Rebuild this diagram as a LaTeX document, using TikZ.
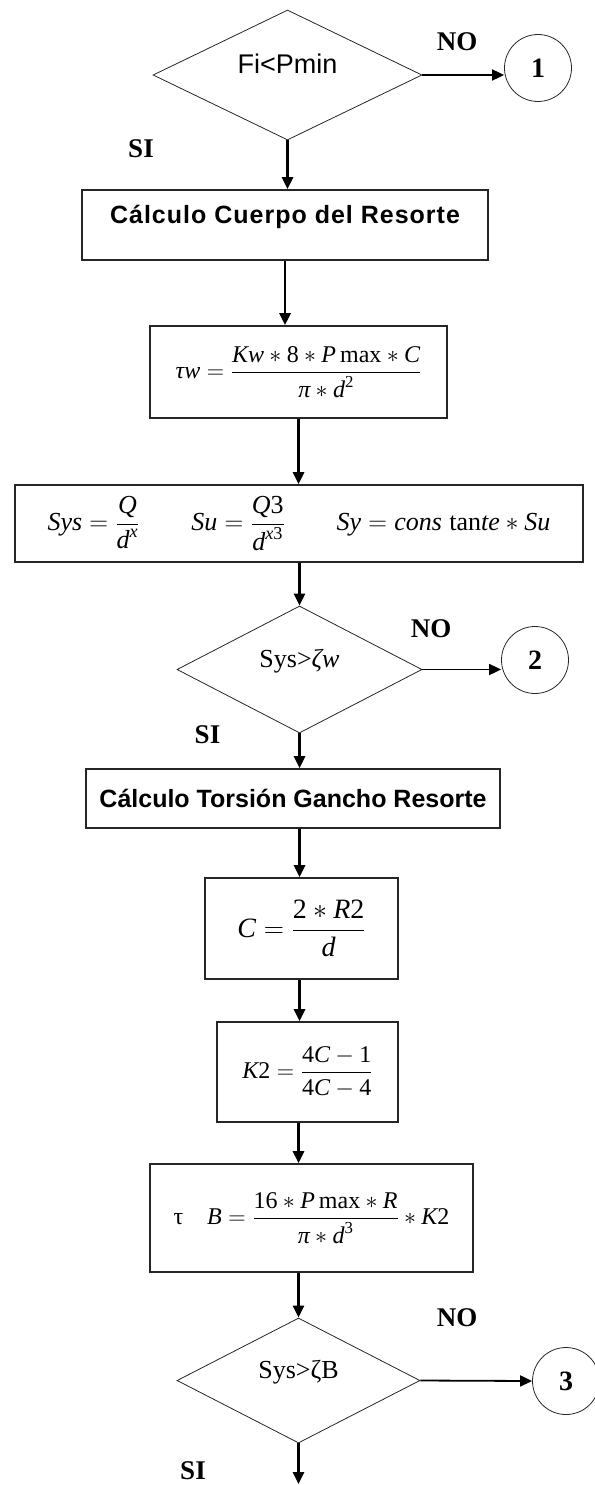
\RequirePackage{fix-cm}
\documentclass[tikz,border=0pt]{standalone}
\usepackage{amsmath}
\usepackage{fontspec}
\setmainfont{Liberation Serif}
\newfontfamily\arialfam{Liberation Sans}
\usetikzlibrary{positioning, arrows.meta, shapes.geometric, calc}

\newcommand{\ital}[1]{\textit{#1}}
\newcommand{\dig}[1]{\textup{#1}}
\newcommand{\eqsize}{\fontsize{24}{28}\selectfont}

\begin{document}
\begin{tikzpicture}[
    x=1pt, y=-1pt,
    procbox/.style={
      rectangle, draw=black!85, line width=1.6pt,
      inner sep=0pt, align=center, font=\eqsize,
    },
    titlebox/.style={
      procbox, font=\arialfam\bfseries\fontsize{25}{28}\selectfont,
    },
    decision/.style={
      diamond, draw=black!85, line width=0.8pt, aspect=2,
      inner sep=0pt, text depth=22pt,
    },
    connector/.style={
      circle, draw=black!85, line width=0.8pt,
      minimum size=67pt, inner sep=0pt,
      font=\bfseries\fontsize{28}{30}\selectfont,
    },
    answer/.style={font=\bfseries\fontsize{27}{30}\selectfont},
    flow/.style={-{Triangle[length=12pt, width=11pt]}, line width=2.6pt},
    side/.style={-{Triangle[length=12pt, width=11pt]}, line width=1.8pt},
]
\useasboundingbox (0,0) rectangle (594,1485);

% First check
\node[decision, minimum width=269pt, minimum height=130pt,
      font=\arialfam\fontsize{27}{30}\selectfont] (d1) at (287.5,75) {Fi<Pmin};
\node[connector] (c1) at (538,68) {1};
\node[answer] (no1) at (457,42) {NO};
\node[answer] (si1) at (141,149) {SI};

% Spring body
\node[titlebox, minimum width=406pt, minimum height=70pt, text depth=22pt] (b1) at (285,225)
  {\addfontfeatures{LetterSpace=4}Cálculo Cuerpo del Resorte};
\node[procbox, minimum width=297pt, minimum height=92pt] (b2) at (298.5,372)
  {$\ital{τw} = \dfrac{\ital{Kw}*\dig{8}*\ital{P}\,\textup{max}*\ital{C}}{\ital{π}*\ital{d}^{\dig{2}}}$};
\node[procbox, minimum width=568pt, minimum height=77pt,
      font=\fontsize{26}{30}\selectfont] (b3) at (299,523.5)
  {$\ital{Sys} = \dfrac{\ital{Q}}{\ital{d}^{\ital{x}}}$\qquad
   $\ital{Su} = \dfrac{\ital{Q}\dig{3}}{\ital{d}^{\ital{x}\dig{3}}}$\qquad
   $\ital{Sy} = \ital{cons}\;\textup{tan}\ital{te}*\ital{Su}$};

% Second check
\node[decision, minimum width=245pt, minimum height=127pt,
      font=\fontsize{26}{30}\selectfont] (d2) at (299.5,669.5) {Sys>\ital{ζw}};
\node[connector] (c2) at (535,660) {2};
\node[answer] (no2) at (431,629) {NO};
\node[answer] (si2) at (207.5,735) {SI};

% Hook torsion
\node[titlebox, minimum width=414pt, minimum height=59pt] (b4) at (293,798.5)
  {Cálculo Torsión Gancho Resorte};
\node[procbox, minimum width=193pt, minimum height=101pt,
      font=\fontsize{28}{32}\selectfont] (b5) at (301.5,928.5)
  {$\ital{C} = \dfrac{\dig{2}*\ital{R}\dig{2}}{\ital{d}}$};
\node[procbox, minimum width=181pt, minimum height=100pt] (b6) at (307.5,1072)
  {$\ital{K}\dig{2} = \dfrac{\dig{4}\ital{C}-\dig{1}}{\dig{4}\ital{C}-\dig{4}}$};
\node[procbox, minimum width=323pt, minimum height=108pt] (b7) at (311.5,1218)
  {$\textup{τ}\quad\ital{B} = \dfrac{\dig{16}*\ital{P}\,\textup{max}*\ital{R}}{\ital{π}*\ital{d}^{\dig{3}}}*\ital{K}\dig{2}$};

% Third check
\node[decision, minimum width=243pt, minimum height=125pt,
      font=\fontsize{26}{30}\selectfont] (d3) at (298.5,1380.5) {Sys>ζB};
\node[connector] (c3) at (566,1381) {3};
\node[answer] (no3) at (457,1318) {NO};
\node[answer] (si3) at (193,1471) {SI};
\coordinate (fin) at (298.5,1484);

% Main flow
\draw[flow] (d1.south) -- (d1.south |- b1.north);
\draw[flow] (b1.south) -- (b1.south |- b2.north);
\draw[flow] (b2.south) -- (b2.south |- b3.north);
\draw[flow] (b3.south -| d2.north) -- (d2.north);
\draw[flow] (d2.south) -- (d2.south |- b4.north);
\draw[flow] (b4.south -| d2.south) -- (b5.north -| d2.south);
\draw[flow] (b5.south -| d2.south) -- (b6.north -| d2.south);
\draw[flow] (b6.south -| d3.north) -- (b7.north -| d3.north);
\draw[flow] (b7.south -| d3.north) -- (d3.north);
\draw[flow] (d3.south) -- (fin);

% NO branches
\draw[side] (d1.east) -- (d1.east -| c1.west);
\draw[side] (d2.east) -- (d2.east -| c2.west);
\draw[side] (d3.east) -- (c3.west);
\end{tikzpicture}
\end{document}
